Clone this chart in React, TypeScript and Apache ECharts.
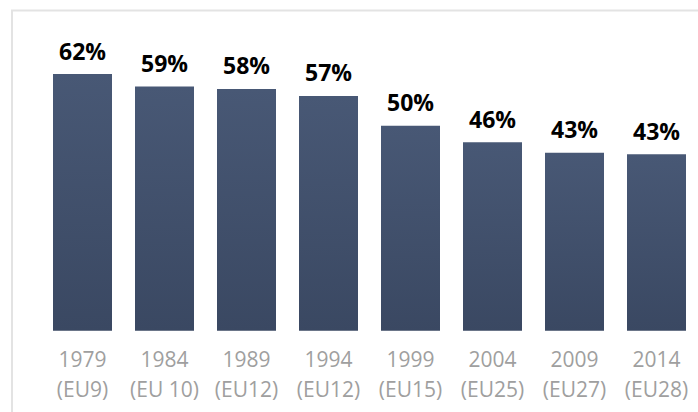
import React, { useEffect, useRef } from "react";
import * as echarts from "echarts";

const years = ["1979", "1984", "1989", "1994", "1999", "2004", "2009", "2014"];
const members = ["(EU9)", "(EU 10)", "(EU12)", "(EU12)", "(EU15)", "(EU25)", "(EU27)", "(EU28)"];
const turnout = [62.0, 59.0, 58.4, 56.7, 49.5, 45.5, 43.0, 42.6];

export default function App() {
  const ref = useRef<HTMLDivElement>(null);
  useEffect(() => {
    if (!ref.current) return;
    const chart = echarts.init(ref.current, null, { renderer: "svg" });
    const categories = years.map((y, i) => y + "\n" + members[i]);
    chart.setOption({
      animation: false,
      backgroundColor: "#ffffff",
      graphic: [
        {
          type: "rect",
          shape: { x: 12, y: 10.5, width: 720, height: 440 },
          style: { fill: "none", stroke: "#e3e3e3", lineWidth: 2 },
          silent: true,
        },
      ],
      grid: { left: 41.5, right: 0.5, top: 40.9, bottom: 81.3, containLabel: false },
      xAxis: {
        type: "category",
        data: categories,
        axisLine: { show: false },
        axisTick: { show: false },
        axisLabel: {
          color: "#9f9f9f",
          fontFamily: "Open Sans",
          fontSize: 21,
          lineHeight: 30,
          margin: 13,
          interval: 0,
        },
      },
      yAxis: {
        type: "value",
        min: 0,
        max: 70,
        show: false,
        splitLine: { show: false },
      },
      series: [
        {
          type: "bar",
          data: turnout,
          barWidth: 59,
          itemStyle: {
            color: new echarts.graphic.LinearGradient(0, 0, 0, 1, [
              { offset: 0, color: "#485875" },
              { offset: 1, color: "#3a4862" },
            ]),
          },
          label: {
            show: true,
            position: "top",
            distance: 12,
            color: "#000000",
            fontFamily: "Open Sans",
            fontWeight: "bold",
            fontSize: 23,
            formatter: (p: any) => Math.round(p.value) + "%",
          },
        },
      ],
    });
    return () => chart.dispose();
  }, []);
  return (
    <div
      ref={ref}
      style={{ position: "absolute", left: 0, top: 0, width: 698, height: 412 }}
    />
  );
}
